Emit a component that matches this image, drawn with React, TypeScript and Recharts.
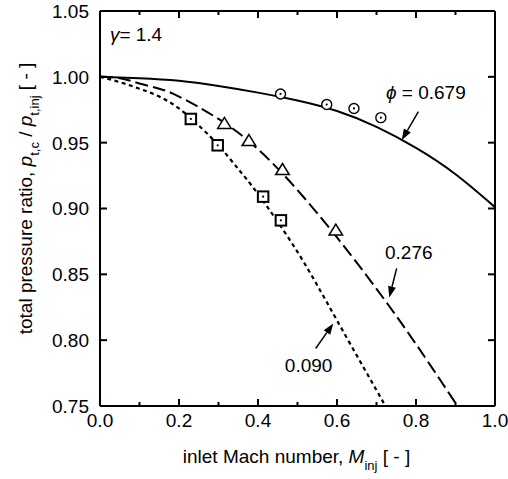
import React from "react"
import {
  ComposedChart,
  Line,
  Scatter,
  XAxis,
  YAxis,
  ReferenceLine,
  ReferenceDot,
} from "recharts"

const FONT = '"Liberation Sans", Arial, Helvetica, sans-serif'

// model curves (phi = 0.679, 0.276, 0.090)
const machHigh = [0, 0.1, 0.2, 0.3, 0.4, 0.5, 0.6, 0.7, 0.8, 0.9, 1.0]
const ratioHigh = [1.0, 0.999, 0.997, 0.993, 0.988, 0.982, 0.974, 0.962, 0.946, 0.926, 0.901]

const machMid = [0, 0.05, 0.1, 0.15, 0.2, 0.3, 0.4, 0.5, 0.6, 0.7, 0.8, 0.905]
const ratioMid = [1.0, 0.999, 0.995, 0.991, 0.985, 0.968, 0.945, 0.914, 0.878, 0.839, 0.797, 0.75]

const machLow = [0, 0.05, 0.1, 0.15, 0.2, 0.25, 0.3, 0.35, 0.4, 0.5, 0.6, 0.7, 0.722]
const ratioLow = [1.0, 0.996, 0.991, 0.985, 0.976, 0.963, 0.948, 0.93, 0.911, 0.867, 0.815, 0.762, 0.75]

// measurements
const circleMach = [0.457, 0.574, 0.643, 0.711]
const circleRatio = [0.987, 0.979, 0.976, 0.969]
const triMach = [0.315, 0.377, 0.462, 0.597]
const triRatio = [0.965, 0.952, 0.93, 0.884]
const squareMach = [0.23, 0.298, 0.413, 0.458]
const squareRatio = [0.968, 0.948, 0.909, 0.891]

const xDomain = [0, 1]
const yDomain = [0.75, 1.05]
const xTicks = [0, 0.1, 0.2, 0.3, 0.4, 0.5, 0.6, 0.7, 0.8, 0.9, 1.0]
const yTicks = [0.75, 0.8, 0.85, 0.9, 0.95, 1.0, 1.05]

const zip = (xs: number[], ys: number[]) => xs.map((x, i) => ({ x, y: ys[i] }))

const highData = zip(machHigh, ratioHigh)
const midData = zip(machMid, ratioMid)
const lowData = zip(machLow, ratioLow)
const circleData = zip(circleMach, circleRatio)
const triData = zip(triMach, triRatio)
const squareData = zip(squareMach, squareRatio)

// inward ticks on all four sides of the frame
const frameTicks = [
  ...xTicks.map((v) => ({ x: v, y: yDomain[0], side: "bottom" })),
  ...xTicks.map((v) => ({ x: v, y: yDomain[1], side: "top" })),
  ...yTicks.map((v) => ({ x: xDomain[0], y: v, side: "left" })),
  ...yTicks.map((v) => ({ x: xDomain[1], y: v, side: "right" })),
]

const isMajorX = (v: number) => Math.round(v * 10) % 2 === 0

const TickMark = (props: any) => {
  const { cx, cy, payload } = props
  const side = payload.side
  if (side === "bottom" || side === "top") {
    const len = isMajorX(payload.x) ? 7 : 4
    return <rect x={cx - 1} y={side === "bottom" ? cy - len : cy} width={2} height={len} fill="#000" />
  }
  const len = 7
  return <rect x={side === "left" ? cx : cx - len} y={cy - 1} width={len} height={2} fill="#000" />
}

const BottomLabel = (props: any) => {
  const { x, y, payload } = props
  if (!isMajorX(payload.value)) return <g />
  return (
    <text x={x} y={y + 21} textAnchor="middle" fontSize={19} fontFamily={FONT} fill="#000">
      {payload.value.toFixed(1)}
    </text>
  )
}

const LeftLabel = (props: any) => {
  const { x, y, payload } = props
  return (
    <text x={x - 11} y={y} dy="0.36em" textAnchor="end" fontSize={19} fontFamily={FONT} fill="#000">
      {payload.value.toFixed(2)}
    </text>
  )
}

const CircleMark = (props: any) => {
  const { cx, cy } = props
  return (
    <g>
      <circle cx={cx} cy={cy} r={5} fill="#fff" stroke="#000" strokeWidth={1.4} />
      <circle cx={cx} cy={cy} r={1.1} fill="#000" />
    </g>
  )
}

const TriMark = (props: any) => {
  const { cx, cy } = props
  const h = 11
  const w = 13.5
  return (
    <polygon
      points={`${cx},${cy - h / 2} ${cx + w / 2},${cy + h / 2} ${cx - w / 2},${cy + h / 2}`}
      fill="#fff"
      stroke="#000"
      strokeWidth={1.5}
    />
  )
}

const SquareMark = (props: any) => {
  const { cx, cy } = props
  const s = 10.5
  return (
    <g>
      <rect x={cx - s / 2} y={cy - s / 2} width={s} height={s} fill="#fff" stroke="#000" strokeWidth={2} />
      <circle cx={cx} cy={cy} r={1.1} fill="#000" />
    </g>
  )
}

const Arrow = (props: any) => {
  const { x1, y1, x2, y2 } = props
  const dx = x2 - x1
  const dy = y2 - y1
  const len = Math.hypot(dx, dy) || 1
  const ux = dx / len
  const uy = dy / len
  const hl = 11
  const hw = 4
  const bx = x2 - ux * hl
  const by = y2 - uy * hl
  return (
    <g>
      <line x1={x1} y1={y1} x2={bx} y2={by} stroke="#000" strokeWidth={1.5} />
      <polygon
        points={`${x2},${y2} ${bx - uy * hw},${by + ux * hw} ${bx + uy * hw},${by - ux * hw}`}
        fill="#000"
      />
    </g>
  )
}

const textAt = (content: React.ReactNode) => (p: any) => (
  <text x={p.cx} y={p.cy} fontSize={19} fontFamily={FONT} fill="#000">
    {content}
  </text>
)

const XTitle = (props: any) => {
  const { viewBox } = props
  const cx = viewBox.x + viewBox.width / 2 - 1
  const y = viewBox.y + 57
  return (
    <text x={cx} y={y} textAnchor="middle" fontSize={19} fontFamily={FONT} fill="#000">
      inlet Mach number, <tspan fontStyle="italic">M</tspan>
      <tspan fontSize={13} dy={7}>inj</tspan>
      <tspan dy={-7}> [ - ]</tspan>
    </text>
  )
}

const YTitle = (props: any) => {
  const { viewBox } = props
  const x = viewBox.x + 32
  const y = viewBox.y + viewBox.height / 2 - 10
  return (
    <text
      x={x}
      y={y}
      transform={`rotate(-90 ${x} ${y})`}
      textAnchor="middle"
      fontSize={19}
      fontFamily={FONT}
      fill="#000"
    >
      total pressure ratio, <tspan fontStyle="italic">p</tspan>
      <tspan fontSize={13} dy={7}>t,c</tspan>
      <tspan dy={-7}> / </tspan>
      <tspan fontStyle="italic">p</tspan>
      <tspan fontSize={13} dy={7}>t,inj</tspan>
      <tspan dy={-7}> [ - ]</tspan>
    </text>
  )
}

export default function App() {
  return (
    <div style={{ position: "absolute", left: 0, top: 0, width: 508, height: 479, background: "#fff" }}>
      <ComposedChart width={508} height={479} margin={{ top: 0, right: 0, bottom: 0, left: 0 }}>
        <XAxis
          xAxisId={0}
          dataKey="x"
          type="number"
          domain={xDomain}
          ticks={xTicks}
          interval={0}
          height={73}
          tickSize={0}
          tickMargin={0}
          tickLine={false}
          tick={BottomLabel}
          axisLine={{ stroke: "#000", strokeWidth: 2 }}
          allowDataOverflow
          label={{ content: XTitle }}
        />
        <XAxis
          xAxisId="top"
          orientation="top"
          type="number"
          domain={xDomain}
          height={11}
          tick={false}
          tickLine={false}
          axisLine={{ stroke: "#000", strokeWidth: 2 }}
          allowDataOverflow
        />
        <YAxis
          yAxisId={0}
          dataKey="y"
          type="number"
          domain={yDomain}
          ticks={yTicks}
          interval={0}
          width={100}
          tickSize={0}
          tickMargin={0}
          tickLine={false}
          tick={LeftLabel}
          axisLine={{ stroke: "#000", strokeWidth: 2 }}
          allowDataOverflow
          label={{ content: YTitle }}
        />
        <YAxis
          yAxisId="right"
          orientation="right"
          type="number"
          domain={yDomain}
          width={13}
          tick={false}
          tickLine={false}
          axisLine={{ stroke: "#000", strokeWidth: 2 }}
          allowDataOverflow
        />

        <Scatter data={frameTicks} shape={TickMark} isAnimationActive={false} />

        <Line data={highData} dataKey="y" type="natural" stroke="#000" strokeWidth={2} dot={false} isAnimationActive={false} />
        <Line data={midData} dataKey="y" type="natural" stroke="#000" strokeWidth={2} strokeDasharray="13 5" dot={false} isAnimationActive={false} />
        <Line data={lowData} dataKey="y" type="natural" stroke="#000" strokeWidth={2.2} strokeDasharray="4 3.5" dot={false} isAnimationActive={false} />

        <Scatter data={circleData} shape={CircleMark} isAnimationActive={false} />
        <Scatter data={triData} shape={TriMark} isAnimationActive={false} />
        <Scatter data={squareData} shape={SquareMark} isAnimationActive={false} />

        <ReferenceLine segment={[{ x: 0.806, y: 0.9735 }, { x: 0.764, y: 0.952 }]} shape={Arrow} />
        <ReferenceLine segment={[{ x: 0.751, y: 0.8545 }, { x: 0.7324, y: 0.8324 }]} shape={Arrow} />
        <ReferenceLine segment={[{ x: 0.546, y: 0.7937 }, { x: 0.5906, y: 0.8127 }]} shape={Arrow} />

        <ReferenceDot
          x={0.025}
          y={1.0274}
          shape={textAt(
            <>
              <tspan fontStyle="italic">γ</tspan>= 1.4
            </>
          )}
        />
        <ReferenceDot
          x={0.724}
          y={0.9831}
          shape={textAt(
            <>
              <tspan fontStyle="italic">ϕ</tspan> = 0.679
            </>
          )}
        />
        <ReferenceDot x={0.7215} y={0.862} shape={textAt("0.276")} />
        <ReferenceDot x={0.468} y={0.776} shape={textAt("0.090")} />
      </ComposedChart>
    </div>
  )
}
